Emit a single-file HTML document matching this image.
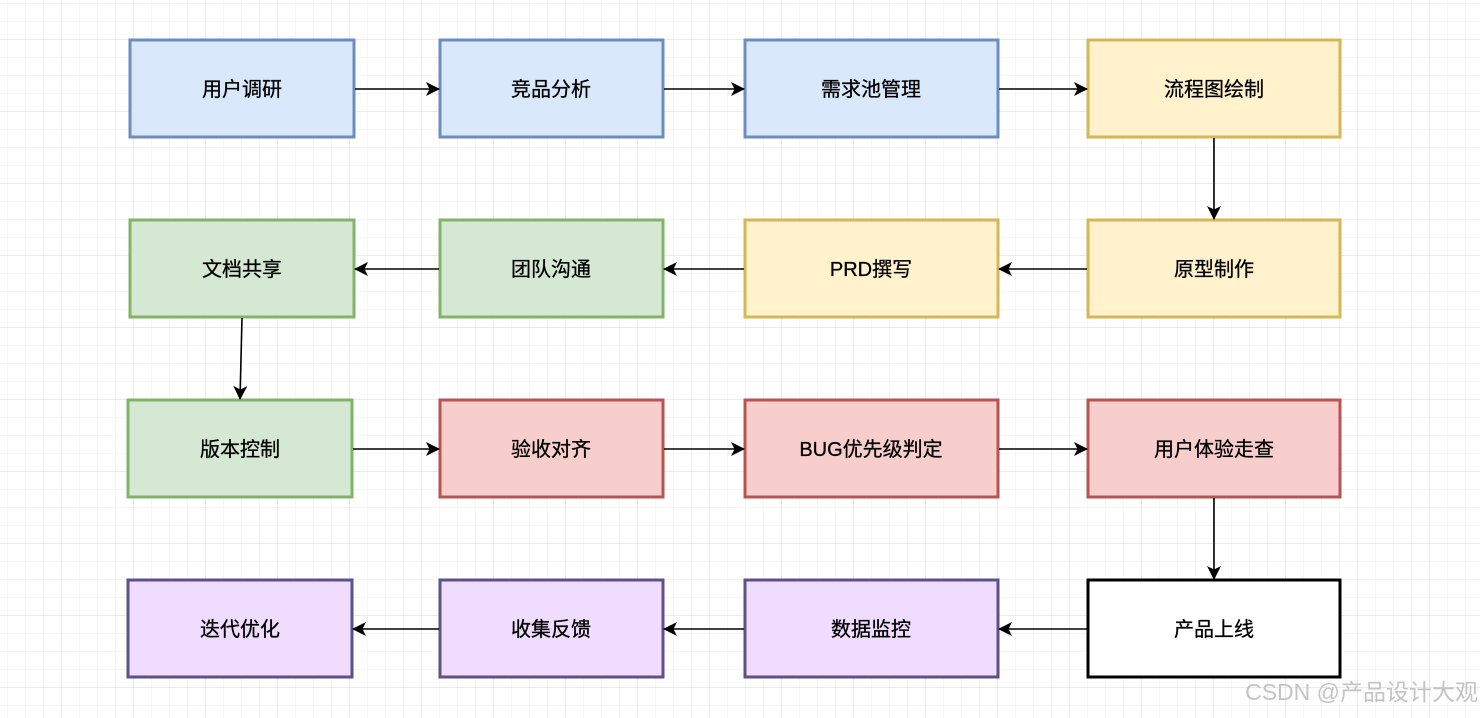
<!DOCTYPE html>
<html><head><meta charset="utf-8"><style>
html,body{margin:0;padding:0;background:#fff;}
svg{display:block;}
text{font-family:"Liberation Sans","Noto Sans CJK SC",sans-serif;font-size:20px;fill:#000;text-anchor:middle;dominant-baseline:central;}
</style></head><body>
<svg width="1480" height="718" viewBox="0 0 1480 718" xmlns="http://www.w3.org/2000/svg">
<defs>
<pattern id="minor" x="7" y="3" width="18" height="18" patternUnits="userSpaceOnUse">
<path d="M0 0H18M0 0V18" stroke="#ececec" stroke-width="1" fill="none"/>
</pattern>
<pattern id="major" x="61" y="39" width="72" height="72" patternUnits="userSpaceOnUse">
<path d="M0 0H72M0 0V72" stroke="#d4d4d4" stroke-width="1" fill="none"/>
</pattern>
<marker id="a" viewBox="0 0 14 14" refX="13" refY="7" markerWidth="14" markerHeight="14" markerUnits="userSpaceOnUse" orient="auto">
<path d="M0 0L14 7L0 14L3.5 7Z" fill="#000"/>
</marker>
</defs>
<rect width="1480" height="718" fill="url(#minor)"/>
<rect width="1480" height="718" fill="url(#major)"/>
<g stroke-width="3">
<rect x="130" y="40" width="224" height="97" fill="#dae8fc" stroke="#6c8ebf"/>
<rect x="440" y="40" width="223" height="97" fill="#dae8fc" stroke="#6c8ebf"/>
<rect x="745" y="40" width="253" height="97" fill="#dae8fc" stroke="#6c8ebf"/>
<rect x="1088" y="40" width="252" height="97" fill="#fff2cc" stroke="#d6b656"/>
<rect x="130" y="220" width="224" height="97" fill="#d5e8d4" stroke="#82b366"/>
<rect x="440" y="220" width="223" height="97" fill="#d5e8d4" stroke="#82b366"/>
<rect x="745" y="220" width="253" height="97" fill="#fff2cc" stroke="#d6b656"/>
<rect x="1088" y="220" width="252" height="97" fill="#fff2cc" stroke="#d6b656"/>
<rect x="128" y="400" width="224" height="97" fill="#d5e8d4" stroke="#82b366"/>
<rect x="440" y="400" width="223" height="97" fill="#f8cecc" stroke="#b85450"/>
<rect x="745" y="400" width="253" height="97" fill="#f8cecc" stroke="#b85450"/>
<rect x="1088" y="400" width="252" height="97" fill="#f8cecc" stroke="#b85450"/>
<rect x="128" y="580" width="224" height="97" fill="#f0dcfe" stroke="#5c5287"/>
<rect x="440" y="580" width="223" height="97" fill="#f0dcfe" stroke="#5c5287"/>
<rect x="745" y="580" width="253" height="97" fill="#f0dcfe" stroke="#5c5287"/>
<rect x="1088" y="580" width="252" height="97" fill="#fff" stroke="#000"/>
</g>
<g stroke="#000" stroke-width="1.6" fill="none" marker-end="url(#a)">
<line x1="355" y1="89" x2="439" y2="89"/>
<line x1="664" y1="89" x2="744" y2="89"/>
<line x1="999" y1="89" x2="1087" y2="89"/>
<line x1="1214" y1="138" x2="1214" y2="219"/>
<line x1="1087" y1="269" x2="999" y2="269"/>
<line x1="744" y1="269" x2="664" y2="269"/>
<line x1="439" y1="269" x2="355" y2="269"/>
<line x1="242" y1="318" x2="240" y2="399"/>
<line x1="353" y1="449" x2="439" y2="449"/>
<line x1="664" y1="449" x2="744" y2="449"/>
<line x1="999" y1="449" x2="1087" y2="449"/>
<line x1="1214" y1="498" x2="1214" y2="579"/>
<line x1="1087" y1="629" x2="999" y2="629"/>
<line x1="744" y1="629" x2="664" y2="629"/>
<line x1="439" y1="629" x2="353" y2="629"/>
</g>
<g style="stroke:#000;stroke-width:0.3;">
<text x="242" y="90">用户调研</text>
<text x="551" y="90">竞品分析</text>
<text x="871" y="90">需求池管理</text>
<text x="1214" y="90">流程图绘制</text>
<text x="242" y="270">文档共享</text>
<text x="551" y="270">团队沟通</text>
<text x="871" y="270">PRD撰写</text>
<text x="1214" y="270">原型制作</text>
<text x="240" y="450">版本控制</text>
<text x="551" y="450">验收对齐</text>
<text x="871" y="450">BUG优先级判定</text>
<text x="1214" y="450">用户体验走查</text>
<text x="240" y="630">迭代优化</text>
<text x="551" y="630">收集反馈</text>
<text x="871" y="630">数据监控</text>
<text x="1214" y="630">产品上线</text>
</g>
<text x="1478" y="692" style="font-size:23px;fill:#c4c4c4;text-anchor:end;">CSDN @产品设计大观</text>
</svg>
</body></html>
